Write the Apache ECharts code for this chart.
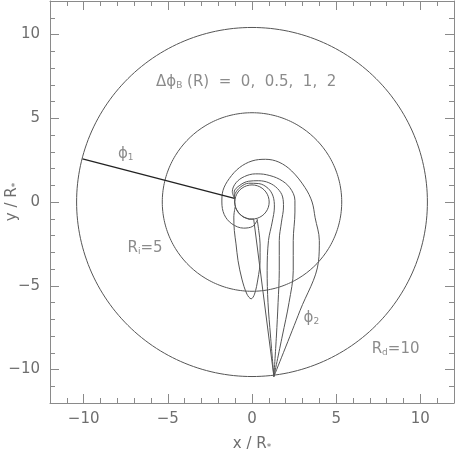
<!DOCTYPE html>
<html>
<head>
<meta charset="utf-8">
<script src="https://cdn.jsdelivr.net/npm/echarts@6/dist/echarts.min.js"></script>
<style>
  html, body { margin: 0; padding: 0; background: #fff; }
  #chart { width: 455px; height: 452px; }
</style>
</head>
<body>
<div id="chart"></div>
<script>
// axis ticks
const majorTicks = [-10, -5, 0, 5, 10];
const minorTicks = [-11, -9, -8, -7, -6, -4, -3, -2, -1, 1, 2, 3, 4, 6, 7, 8, 9, 11];

// circles: disk edge R_d, inner radius R_i, stellar surface
const circleRadii = [10.42, 5.33, 1.02];

// field line projections (x, y in R*)
const lineDphi0 = [[1.3, -10.42], [0.1, -1.02], [-0.18, -1.03], [-0.52, -0.9], [-0.79, -0.67],
  [-0.98, -0.35], [-1.04, 0.0], [-1.02, 0.22]];
const lineA = [[1.3, -10.42], [1.1, -8.0], [0.95, -6.0], [0.9, -4.1], [0.98, -2.3], [1.2, -1.2],
  [1.33, -0.3], [1.25, 0.35], [0.95, 0.82], [0.4, 1.1], [-0.2, 1.12], [-0.7, 0.88], [-1.0, 0.5], [-1.04, 0.22]];
const lineB = [[1.3, -10.42], [1.45, -8.0], [1.55, -6.0], [1.62, -4.1], [1.62, -2.3], [1.75, -1.2],
  [1.87, -0.3], [1.82, 0.3], [1.52, 0.8], [1.0, 1.15], [0.4, 1.27], [-0.2, 1.24], [-0.72, 1.0],
  [-1.06, 0.6], [-1.04, 0.22]];
const lineC = [[1.3, -10.42], [1.8, -8.0], [2.2, -6.0], [2.45, -4.1], [2.45, -2.3], [2.55, -0.6],
  [2.55, 0.1], [2.25, 0.85], [1.65, 1.35], [0.85, 1.63], [0.2, 1.68], [-0.45, 1.52], [-0.95, 1.15],
  [-1.17, 0.62], [-1.04, 0.22]];
const lineD = [[1.3, -10.42], [2.85, -6.49], [3.95, -3.55], [4.0, -2.3], [3.75, -0.94], [3.57, 0.0],
  [3.15, 0.86], [2.36, 1.85], [1.6, 2.38], [0.8, 2.55], [0.0, 2.45], [-0.75, 2.05], [-1.35, 1.4],
  [-1.72, 0.7], [-1.79, 0.0], [-1.65, -0.75], [-1.2, -1.3], [-0.5, -1.56], [0.05, -1.45],
  [0.3, -1.1]];
const teardrop = [[-1.0, -0.3], [-1.08, -0.9], [-1.05, -1.7], [-0.95, -2.5], [-0.83, -3.5],
  [-0.6, -4.6], [-0.3, -5.5], [-0.05, -5.78], [0.15, -5.5], [0.35, -4.6], [0.48, -3.5],
  [0.48, -2.5], [0.4, -1.7], [0.3, -1.0]];
const phi1Line = [[-10.07, 2.58], [-1.04, 0.22]];

// annotations: [x, y, text]
const labels = [
  [-0.35, 7.15, 'Δϕ{sub|B} (R)  =  0,  0.5,  1,  2'],
  [-7.5, 2.86, 'ϕ{sub|1}'],
  [3.53, -6.93, 'ϕ{sub|2}'],
  [-6.35, -2.77, 'R{sub|i}=5'],
  [8.53, -8.8, 'R{sub|d}=10']
];

const lineColor = '#555';
const frameColor = '#8a8a8a';
const textColor = '#6e6e6e';
const font = 'DejaVu Sans';

function circle(r) {
  const pts = [];
  for (let i = 0; i <= 240; i++) {
    const a = (i / 240) * 2 * Math.PI;
    pts.push([r * Math.cos(a), r * Math.sin(a)]);
  }
  return pts;
}

const minus = (v) => String(v).replace('-', '−');
const subStyle = (pad) => ({ fontSize: 9, verticalAlign: 'bottom', padding: [pad, 0, 0, 0], color: textColor, fontFamily: font });

function axisSet(dim, pos, withLabel, name) {
  const base = {
    type: 'value', min: -12, max: 12, position: pos,
    splitLine: { show: false },
  };
  const major = Object.assign({}, base, {
    axisLine: { show: true, onZero: false, lineStyle: { color: frameColor, width: 1 } },
    axisTick: { show: true, inside: true, length: 9, customValues: majorTicks, lineStyle: { color: frameColor } },
    axisLabel: withLabel ? {
      show: true, customValues: majorTicks, formatter: minus, color: textColor,
      fontFamily: font, fontSize: 15, margin: dim === 'x' ? 9 : 10
    } : { show: false },
  });
  if (name) {
    Object.assign(major, {
      name: name, nameLocation: 'middle', nameGap: dim === 'x' ? 34 : 30, nameMoveOverlap: false,
      nameTextStyle: { color: textColor, fontFamily: font, fontSize: 15, rich: { sub: subStyle(6) } }
    });
  }
  const minor = Object.assign({}, base, {
    axisLine: { show: false, onZero: false },
    axisTick: { show: true, inside: true, length: 5, customValues: minorTicks, lineStyle: { color: frameColor } },
    axisLabel: { show: false },
  });
  return [major, minor];
}

const xAxes = [...axisSet('x', 'bottom', true, 'x / R{sub|*}'), ...axisSet('x', 'top', false)];
const yAxes = [...axisSet('y', 'left', true, 'y / R{sub|*}'), ...axisSet('y', 'right', false)];

const curve = (data, opts) => Object.assign({
  type: 'line', data: data, showSymbol: false, symbol: 'none', silent: true,
  smooth: 0.35, lineStyle: { color: lineColor, width: 1 }, z: 3
}, opts || {});

const series = [
  ...circleRadii.map((r) => curve(circle(r), { smooth: false })),
  curve(lineDphi0, { smooth: false }),
  curve(lineA), curve(lineB), curve(lineC), curve(lineD), curve(teardrop),
  curve(phi1Line, { smooth: false, lineStyle: { color: '#222', width: 1.3 } }),
  {
    type: 'scatter', symbolSize: 0, silent: true, z: 5,
    data: labels.map((l) => ({ value: [l[0], l[1]], text: l[2] })),
    label: {
      show: true, position: 'inside', formatter: (p) => p.data.text,
      color: textColor, fontFamily: font, fontSize: 15, rich: { sub: subStyle(7) }
    }
  }
];

const chart = echarts.init(document.getElementById('chart'));
chart.setOption({
  animation: false,
  grid: { left: 50, right: 1, top: 1, bottom: 49, containLabel: false, outerBoundsMode: 'none' },
  xAxis: xAxes,
  yAxis: yAxes,
  series: series
});
</script>
</body>
</html>
